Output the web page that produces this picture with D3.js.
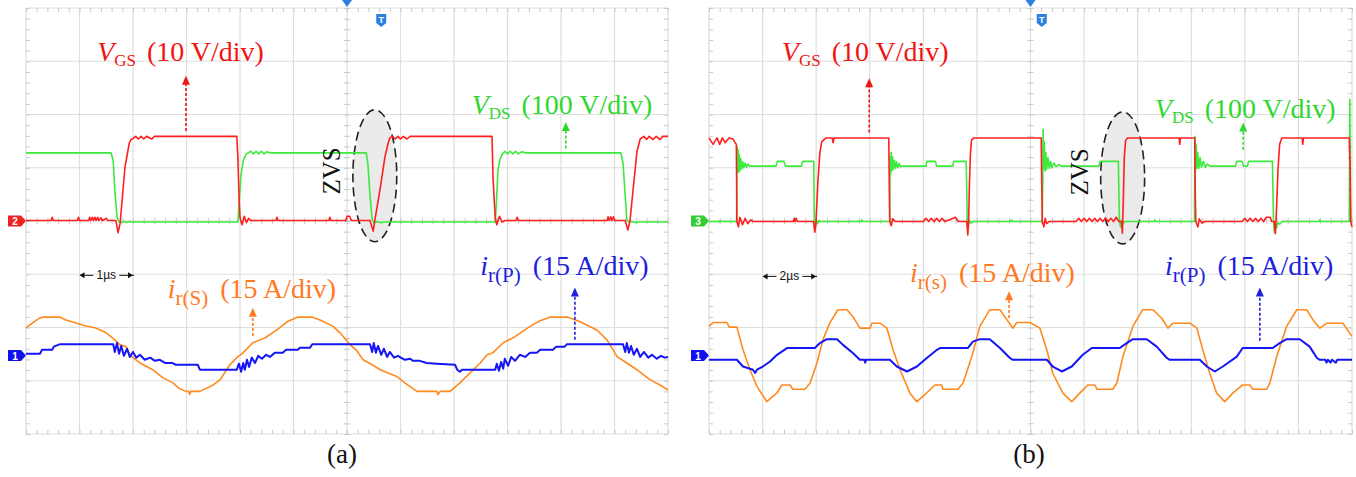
<!DOCTYPE html>
<html>
<head>
<meta charset="utf-8">
<script src="https://cdn.jsdelivr.net/npm/d3@7"></script>
<style>
  body { margin: 0; background: #fff; }
</style>
</head>
<body>
<div id="chart"></div>
<script>
const W = 1356, H = 477;

// screen settings
const captions = ["(a)", "(b)"];
const timePerDiv = [1, 2];          // µs/div
const timeMarks = ["1µs", "2µs"];
const divsX = 12, divsY = 8;

// ---- panel (a) samples: [t (µs), value] ----
const vgsA = [[0,0],[0.47,0],[0.49,0.6],[0.51,0],[0.96,0],[0.98,0.6],[1.0,0],[1.17,0],[1.19,0.6],[1.21,0],[1.24,0.6],[1.26,0],
  [1.29,0.6],[1.31,0],[1.34,0.6],[1.36,0],[1.40,0.5],[1.43,0],[1.50,0.4],[1.53,0],[1.68,0],[1.72,-2.3],[1.76,-0.5],[1.79,3],
  [1.85,10],[1.93,14.5],[1.96,15.2],[2.0,15.4],[2.05,15.8],[2.1,15.3],[2.15,15.8],[2.2,15.3],[2.25,15.8],[2.35,15.3],[2.4,15.8],
  [3.94,15.8],[3.96,12],[3.98,5],[4.0,0.5],[4.04,-0.8],[4.08,0.8],[4.12,-0.4],[4.16,0.4],[4.2,0],[4.67,0],[4.69,0.6],[4.71,0],
  [5.66,0],[5.68,0.6],[5.7,0],[5.98,0],[6.0,0.8],[6.05,0.8],[6.08,0],[6.43,0],[6.49,-2],[6.52,0],[6.62,6],[6.71,12],[6.77,14.5],
  [6.80,15.5],[6.85,15.8],[6.9,15.3],[6.95,15.8],[7.0,15.3],[7.05,15.8],[7.12,15.3],[7.18,15.8],[8.71,15.8],[8.73,8],[8.77,0.5],
  [8.8,-0.8],[8.85,0.8],[8.9,-0.3],[8.95,0],[9.16,0],[9.18,0.6],[9.2,0],[10.86,0],[10.88,0.7],[10.9,0],[10.93,0.7],[10.95,0],
  [10.98,0.7],[11.0,0],[11.2,0],[11.25,-1.8],[11.29,0],[11.35,6],[11.42,13],[11.48,15.3],[11.55,15.8],[11.6,15.2],[11.65,15.8],
  [11.72,15.2],[11.78,15.8],[11.85,15.2],[11.9,15.8],[12,15.8]];
const vdsA = [[0,130],[1.59,130],[1.63,115],[1.66,60],[1.70,10],[1.74,0],[1.78,-1],[1.83,1.5],[1.88,-1],[1.93,1],[1.98,0],
  [3.96,0],[3.98,30],[4.02,90],[4.06,115],[4.11,127],[4.2,133],[4.25,128],[4.3,133],[4.35,128],[4.4,133],[4.45,128],[4.5,132],
  [4.56,130],[6.36,130],[6.39,110],[6.43,50],[6.47,5],[6.51,-2],[6.56,1],[6.62,-1],[6.7,0],[8.77,0],[8.79,30],[8.82,95],
  [8.86,118],[8.9,127],[8.95,133],[9.0,128],[9.05,133],[9.1,128],[9.15,133],[9.2,128],[9.27,132],[9.33,130],[11.12,130],
  [11.16,110],[11.2,50],[11.23,5],[11.27,0],[11.32,1],[11.4,-1],[11.45,0],[12,0]];
const irPA = [[0,0.5],[0.26,0.5],[0.3,1.6],[0.49,1.6],[0.52,2.5],[0.6,3.0],[0.64,3.2],[1.63,3.2],[1.66,1.0],[1.70,3.5],[1.74,0.5],
  [1.78,2.7],[1.83,-0.1],[1.89,1.9],[1.94,-0.4],[2.0,1.0],[2.06,-0.6],[2.13,0.2],[2.22,-1.2],[2.32,-0.6],[2.41,-1.5],[2.5,-1.2],
  [2.6,-2.1],[2.73,-2.1],[2.8,-2.6],[3.21,-2.6],[3.25,-4.0],[3.94,-4.0],[3.98,-2.3],[4.02,-4.6],[4.06,-2.1],[4.09,-4.0],
  [4.13,-1.2],[4.17,-3.2],[4.22,-0.6],[4.28,-2.1],[4.34,-0.1],[4.41,-0.9],[4.49,0.2],[4.56,-0.4],[4.65,0.8],[4.8,0.8],[4.86,1.6],
  [5.08,1.6],[5.12,2.2],[5.31,2.2],[5.35,3.2],[6.43,3.2],[6.47,1.0],[6.5,3.5],[6.54,0.8],[6.58,2.7],[6.64,0.2],[6.69,1.9],
  [6.75,-0.4],[6.8,1.0],[6.88,-0.6],[6.95,-0.1],[7.08,-1.2],[7.18,-0.9],[7.23,-1.5],[7.36,-1.5],[7.49,-2.1],[7.68,-2.3],
  [8.02,-2.6],[8.06,-4.0],[8.11,-4.6],[8.15,-4.0],[8.77,-4.0],[8.8,-2.3],[8.84,-4.3],[8.88,-1.8],[8.92,-3.7],[8.95,-0.9],
  [9.01,-2.9],[9.07,-0.4],[9.14,-1.5],[9.23,0.2],[9.33,-0.4],[9.42,0.8],[9.55,0.8],[9.61,1.6],[9.85,1.6],[9.91,2.5],[10.07,2.5],
  [10.11,3.2],[11.16,3.2],[11.2,1.0],[11.23,3.5],[11.27,0.8],[11.31,2.7],[11.36,0.2],[11.42,1.9],[11.48,-0.4],[11.55,1.0],
  [11.63,-0.6],[11.7,0.2],[11.79,-0.9],[11.87,-0.1],[11.94,-0.6],[12,-0.4]];
const irSA = [[0,7.7],[0.07,8.6],[0.17,9.7],[0.26,10.6],[0.32,10.8],[0.64,10.8],[0.73,10.1],[0.92,9.2],[1.1,8.4],[1.29,7.8],
  [1.5,6.4],[1.66,4.4],[1.76,3.0],[1.87,2.5],[1.94,0.2],[2.0,-0.6],[2.13,-2.1],[2.37,-4.0],[2.56,-6.3],[2.75,-7.7],[2.84,-9.0],
  [2.88,-9.4],[2.99,-10.1],[3.04,-10.1],[3.06,-11.0],[3.08,-10.1],[3.25,-10.1],[3.5,-8.3],[3.63,-6.8],[3.81,-2.6],[3.94,-0.6],
  [4.06,0.8],[4.24,3.6],[4.47,5.0],[4.69,7.2],[4.88,9.5],[5.07,10.8],[5.36,10.8],[5.53,9.8],[5.74,8.2],[5.87,6.4],[6.06,3.0],
  [6.17,1.6],[6.3,-1.2],[6.47,-2.6],[6.62,-4.0],[6.93,-5.9],[7.08,-7.7],[7.31,-10.1],[7.68,-10.1],[7.7,-11.0],[7.74,-10.1],
  [7.93,-10.1],[8.11,-7.7],[8.36,-4.0],[8.49,-2.1],[8.62,0.2],[8.73,0.8],[8.92,3.6],[9.14,5.3],[9.42,8.2],[9.61,9.8],[9.79,10.8],
  [10.13,10.8],[10.36,9.5],[10.67,7.2],[10.86,4.4],[11.05,-0.3],[11.23,-2.1],[11.42,-4.0],[11.66,-6.8],[11.85,-8.3],[12,-9.7]];

// ---- panel (b) samples ----
const vgsB = [[0,15.7],[0.15,14.5],[0.3,15.7],[0.4,14.5],[0.5,15.7],[0.6,14.8],[0.75,15.7],[0.9,15.5],[0.97,14.8],[1.02,14.5],
  [1.03,8],[1.04,0],[1.1,-1],[1.15,0.8],[1.25,-0.6],[1.35,0.6],[1.45,-0.4],[1.55,0.3],[1.65,0],[3.15,0],[3.18,0.6],[3.21,0],
  [3.25,0.6],[3.3,0],[3.9,0],[3.95,-2],[3.99,-0.5],[4.07,8],[4.14,13],[4.21,15],[4.37,15.7],[4.6,15.7],[4.63,14.8],[4.67,15.7],
  [6.71,15.7],[6.73,6],[6.75,0],[6.8,-0.8],[6.86,0.5],[6.95,0],[8.0,0],[8.1,0.6],[8.2,0],[8.3,0.6],[8.4,0],[8.5,0.6],[8.6,0],
  [8.7,0.6],[8.8,0],[9.0,0.4],[9.2,0.8],[9.3,0],[9.62,0],[9.66,-2.5],[9.69,0],[9.72,7],[9.76,13],[9.8,15.3],[9.88,15.7],
  [12.4,15.7],[12.42,7],[12.44,0],[12.5,-1],[12.55,0.6],[12.6,-0.4],[12.7,0],[13.7,0],[13.8,0.6],[13.9,0],[14.0,0.6],[14.1,0],
  [14.2,0.6],[14.3,0],[14.4,0.6],[14.5,0],[14.6,0.6],[14.7,0],[14.8,0.6],[14.9,0],[15.0,0.6],[15.1,0],[15.2,0.8],[15.3,0],
  [15.4,0],[15.43,-2.2],[15.46,3],[15.5,12],[15.55,15.2],[15.62,15.7],[17.55,15.7],[17.57,14.5],[17.6,15.7],[18.13,15.7],
  [18.15,5],[18.17,0],[18.25,-1],[18.3,0.5],[18.4,-0.3],[18.5,0],[19.9,0],[20.0,0.6],[20.1,0],[20.2,0.6],[20.3,0],[20.4,0.6],
  [20.5,0],[20.6,0.6],[20.7,0],[20.8,0.8],[20.95,0.8],[21.0,0],[21.1,0],[21.14,-2.3],[21.18,2],[21.24,10],[21.3,14.5],
  [21.38,15.7],[22.14,15.7],[22.16,14.5],[22.19,15.7],[23.9,15.7],[23.93,10],[23.95,0],[24,-1]];
const vdsB = [[0,0],[0.3,0],[0.35,1],[0.4,-1],[0.45,1],[0.5,0],[1.03,0],[1.04,80],[1.05,141],[1.07,95],[1.09,135],[1.11,92],
  [1.13,125],[1.16,96],[1.19,118],[1.22,99],[1.26,112],[1.3,101],[1.35,110],[1.4,102],[1.45,108],[1.5,104],[2.5,104],[2.55,113],
  [2.8,113],[2.85,104],[3.45,104],[3.5,113],[3.91,113],[3.92,60],[3.93,0],[3.96,-10],[4.0,3],[4.05,-4],[4.1,2],[4.15,0],
  [5.68,0],[5.7,3],[5.73,0],[6.74,0],[6.75,60],[6.76,120],[6.78,90],[6.8,130],[6.82,95],[6.85,122],[6.88,98],[6.92,115],
  [6.96,100],[7.0,112],[7.05,101],[7.1,109],[7.15,103],[7.2,104],[8.1,104],[8.13,113],[8.45,113],[8.5,104],[9.1,104],[9.13,113],
  [9.6,113],[9.62,60],[9.64,0],[9.68,-8],[9.72,2],[9.78,-3],[9.85,0],[11.27,0],[11.29,3],[11.32,0],[12.44,0],[12.46,80],
  [12.47,173],[12.49,100],[12.51,150],[12.54,95],[12.57,130],[12.6,98],[12.65,120],[12.7,100],[12.75,113],[12.8,101],[12.87,110],
  [12.95,103],[13.05,107],[13.15,104],[14.55,104],[14.6,113],[15.28,113],[15.3,50],[15.32,0],[15.36,-10],[15.4,3],[15.46,-3],
  [15.52,0],[16.62,0],[16.64,3],[16.67,0],[18.12,0],[18.13,90],[18.14,160],[18.16,95],[18.18,145],[18.21,100],[18.24,130],
  [18.28,100],[18.33,120],[18.38,102],[18.45,113],[18.52,102],[18.6,108],[18.7,104],[19.65,104],[19.7,113],[19.9,113],[19.95,104],
  [20.1,104],[20.14,113],[21.03,113],[21.05,60],[21.07,0],[21.1,-20],[21.14,-5],[21.18,-12],[21.24,-2],[21.3,-5],[21.4,0],
  [22.78,0],[22.8,3],[22.83,0],[23.9,0],[23.92,229],[23.94,50],[23.96,0],[24,0]];
const irPB = [[0,-1.2],[1.04,-1.2],[1.27,-3.1],[1.64,-4.0],[1.72,-4.9],[1.79,-4.0],[2.01,-3.1],[2.28,-1.7],[2.54,0.2],[2.91,2.1],
  [3.95,2.1],[4.14,3.5],[4.4,4.6],[4.78,4.6],[5.0,3.0],[5.37,0.7],[5.63,-1.2],[5.8,-1.2],[5.83,-2.0],[5.86,-1.2],[6.75,-1.2],
  [7.01,-3.1],[7.39,-4.5],[7.76,-3.1],[8.13,-0.7],[8.51,1.6],[8.62,2.1],[9.66,2.1],[9.85,3.9],[10.11,4.6],[10.48,4.6],[10.86,2.1],
  [11.23,-0.7],[11.34,-1.2],[12.61,-1.2],[12.83,-3.1],[13.17,-4.5],[13.54,-3.1],[13.95,0.2],[14.29,2.1],[15.33,2.1],[15.59,3.5],
  [15.82,4.6],[16.34,4.6],[16.71,2.5],[17.09,-0.7],[17.2,-1.2],[18.32,-1.2],[18.58,-3.1],[18.88,-4.5],[19.18,-3.1],[19.7,-0.3],
  [19.92,2.1],[21.04,2.1],[21.3,3.5],[21.56,4.6],[22.05,4.6],[22.42,2.5],[22.69,-0.7],[22.8,-1.2],[23.0,-1.2],[23.05,-2],
  [23.1,-1.2],[23.2,-2],[23.25,-1.2],[23.4,-2],[23.45,-1.2],[24,-1.2]];
const irSB = [[0,8.2],[0.15,9.3],[0.67,9.3],[0.75,8.0],[1.04,8.0],[1.27,1.6],[1.53,-4.0],[1.79,-8.7],[2.16,-13.0],[2.54,-10.5],
  [2.72,-8.3],[3.02,-8.3],[3.13,-9.5],[3.58,-9.5],[3.77,-7.8],[4.03,-2.1],[4.25,4.4],[4.51,9.2],[4.81,12.9],[5.15,12.9],
  [5.37,11.0],[5.63,7.7],[6.01,7.7],[6.08,9.1],[6.38,9.1],[6.64,7.7],[6.87,1.6],[7.13,-4.0],[7.5,-10.6],[7.76,-13.0],[8.13,-10.5],
  [8.43,-8.3],[8.69,-8.3],[8.73,-9.5],[9.29,-9.5],[9.48,-7.8],[9.81,-0.3],[10.11,8.2],[10.48,12.9],[10.86,12.9],[11.12,10.1],
  [11.34,7.7],[11.49,9.3],[11.98,9.3],[12.35,7.7],[12.61,1.6],[12.83,-5.0],[13.21,-10.6],[13.54,-13.0],[13.84,-10.6],[14.14,-8.3],
  [14.4,-8.3],[14.48,-9.5],[15.07,-9.5],[15.22,-7.8],[15.45,-0.3],[15.82,8.2],[16.19,12.9],[16.57,12.9],[16.9,10.5],[17.13,7.7],
  [17.31,9.1],[17.95,9.1],[18.21,7.7],[18.43,1.6],[18.69,-5.0],[18.95,-10.6],[19.25,-13.0],[19.55,-10.6],[19.92,-8.3],[20.19,-8.3],
  [20.3,-9.5],[20.82,-9.5],[20.93,-7.8],[21.19,-0.3],[21.56,8.2],[21.94,12.9],[22.31,12.9],[22.54,10.1],[22.8,7.7],[23.06,9.1],
  [23.66,9.1],[24,5.4]];

const C = {
  red: "#ff1f1f", redTxt: "#f01414",
  green: "#3bea3b", greenTxt: "#2fd82f",
  orange: "#ff8a1e", orangeTxt: "#ff7a22",
  blue: "#1515f5", blueTxt: "#2020dd",
  grid: "#dedede", tick: "#c8c8c8", marker: "#2b80e0"
};

// ch offsets in divisions, units per division
const panels = [
  {
    x0: 26, x1: 668, y0: 8, y1: 434, tdiv: timePerDiv[0], caption: captions[0], mark: timeMarks[0], capX: 342,
    traces: [
      { data: irSA, color: C.orange, width: 1.6, perDiv: 15, off: -2.526 },
      { data: irPA, color: C.blue, width: 2, perDiv: 15, off: -2.526 },
      { data: vdsA, color: C.green, width: 1.6, perDiv: 100, off: -0.02 },
      { data: vgsA, color: C.red, width: 1.6, perDiv: 10, off: 0.01 }
    ],
    chMarks: [{ y: 0, n: "2", color: "#ee2222" }, { y: -2.526, n: "1", color: "#1111ee" }],
    labels: [
      { x: 1.33, y: 3.0, color: C.redTxt, main: "V", sub: "GS", rest: "(10 V/div)", arrow: [2.99, 1.69, 2.73] },
      { x: 8.33, y: 2.01, color: C.greenTxt, main: "V", sub: "DS", rest: "(100 V/div)", arrow: [10.09, 1.36, 1.86] },
      { x: 2.65, y: -1.44, color: C.orangeTxt, main: "i", sub: "r(S)", rest: "(15 A/div)", arrow: [4.24, -2.16, -1.63] },
      { x: 8.49, y: -1.01, color: C.blueTxt, main: "i", sub: "r(P)", rest: "(15 A/div)", arrow: [10.26, -2.23, -1.25] }
    ],
    zvs: { x: 5.87, y: 0.94 }, ell: { x: 6.52, y: 0.85, rx: 0.41, ry: 1.24 },
    markY: -1.02, trigT: 6.64
  },
  {
    x0: 709, x1: 1352, y0: 8, y1: 434, tdiv: timePerDiv[1], caption: captions[1], mark: timeMarks[1], capX: 1029,
    traces: [
      { data: irSB, color: C.orange, width: 1.6, perDiv: 15, off: -2.526 },
      { data: irPB, color: C.blue, width: 2, perDiv: 15, off: -2.526 },
      { data: vdsB, color: C.green, width: 1.6, perDiv: 100, off: -0.01 },
      { data: vgsB, color: C.red, width: 1.6, perDiv: 10, off: -0.01 }
    ],
    chMarks: [{ y: 0, n: "3", color: "#33cc33" }, { y: -2.526, n: "1", color: "#1111ee" }],
    labels: [
      { x: 1.36, y: 3.0, color: C.redTxt, main: "V", sub: "GS", rest: "(10 V/div)", arrow: [2.99, 1.66, 2.68] },
      { x: 8.32, y: 1.94, color: C.greenTxt, main: "V", sub: "DS", rest: "(100 V/div)", arrow: [9.97, 1.34, 1.85] },
      { x: 3.75, y: -1.14, color: C.orangeTxt, main: "i", sub: "r(s)", rest: "(15 A/div)", arrow: [5.6, -1.82, -1.32] },
      { x: 8.51, y: -1.01, color: C.blueTxt, main: "i", sub: "r(P)", rest: "(15 A/div)", arrow: [10.28, -2.25, -1.25] }
    ],
    zvs: { x: 7.07, y: 0.92 }, ell: { x: 7.72, y: 0.81, rx: 0.41, ry: 1.24 },
    markY: -1.04, trigT: 6.21
  }
];

const svg = d3.select("#chart").append("svg")
  .attr("width", W).attr("height", H)
  .style("background", "#fff");

const serif = "'Liberation Serif', 'Times New Roman', serif";

panels.forEach(p => {
  const g = svg.append("g");
  // grid coordinates in divisions
  const gx = d3.scaleLinear().domain([0, divsX]).range([p.x0, p.x1]);
  const gy = d3.scaleLinear().domain([-divsY / 2, divsY / 2]).range([p.y1, p.y0]);
  // time scale
  const tx = d3.scaleLinear().domain([0, divsX * p.tdiv]).range([p.x0, p.x1]);

  // grid lines
  g.append("g").selectAll("line").data(d3.range(divsX + 1)).join("line")
    .attr("x1", d => gx(d)).attr("x2", d => gx(d))
    .attr("y1", p.y0).attr("y2", p.y1)
    .attr("stroke", C.grid).attr("stroke-width", 1.2);
  g.append("g").selectAll("line").data(d3.range(-divsY / 2, divsY / 2 + 1)).join("line")
    .attr("x1", p.x0).attr("x2", p.x1)
    .attr("y1", d => gy(d)).attr("y2", d => gy(d))
    .attr("stroke", C.grid).attr("stroke-width", 1.2);

  // minor ticks (5 per div) on frame and centre cross
  const xt = d3.range(0, divsX * 5 + 1).map(i => i / 5);
  const yt = d3.range(-divsY * 5 / 2, divsY * 5 / 2 + 1).map(i => i / 5);
  const clean = s => { s.select(".domain").remove(); s.selectAll("line").attr("stroke", C.tick); };
  g.append("g").attr("transform", `translate(0,${p.y0})`)
    .call(d3.axisBottom(gx).tickValues(xt).tickSize(4).tickFormat("")).call(clean);
  g.append("g").attr("transform", `translate(0,${p.y1})`)
    .call(d3.axisTop(gx).tickValues(xt).tickSize(4).tickFormat("")).call(clean);
  g.append("g").attr("transform", `translate(${p.x0},0)`)
    .call(d3.axisRight(gy).tickValues(yt).tickSize(4).tickFormat("")).call(clean);
  g.append("g").attr("transform", `translate(${p.x1},0)`)
    .call(d3.axisLeft(gy).tickValues(yt).tickSize(4).tickFormat("")).call(clean);
  g.append("g").attr("transform", `translate(0,${gy(0) - 3})`)
    .call(d3.axisBottom(gx).tickValues(xt).tickSize(6).tickFormat("")).call(clean);
  g.append("g").attr("transform", `translate(${gx(divsX / 2) - 3},0)`)
    .call(d3.axisRight(gy).tickValues(yt).tickSize(6).tickFormat("")).call(clean);

  // ZVS ellipse (behind traces)
  g.append("ellipse")
    .attr("cx", gx(p.ell.x)).attr("cy", gy(p.ell.y))
    .attr("rx", gx(p.ell.rx) - gx(0)).attr("ry", gy(0) - gy(p.ell.ry))
    .attr("fill", "#e9e9e9").attr("fill-opacity", 0.9)
    .attr("stroke", "#222").attr("stroke-width", 1.6).attr("stroke-dasharray", "9,5");

  // traces
  p.traces.forEach(tr => {
    const line = d3.line()
      .x(d => tx(d[0]))
      .y(d => gy(tr.off + d[1] / tr.perDiv));
    g.append("path").datum(tr.data)
      .attr("d", line)
      .attr("fill", "none")
      .attr("stroke", tr.color)
      .attr("stroke-width", tr.width)
      .attr("stroke-linejoin", "round");
  });

  // ZVS text
  g.append("text")
    .attr("transform", `translate(${gx(p.zvs.x)},${gy(p.zvs.y)}) rotate(-90)`)
    .attr("text-anchor", "middle")
    .attr("font-family", serif).attr("font-size", 25)
    .attr("fill", "#111").text("ZVS");

  // labels with dashed arrows
  p.labels.forEach(l => {
    const isV = l.main === "V";
    const t = g.append("text")
      .attr("x", gx(l.x)).attr("y", gy(l.y))
      .attr("font-family", serif).attr("font-size", 28).attr("fill", l.color);
    t.append("tspan").attr("font-style", "italic").text(l.main);
    t.append("tspan").attr("font-size", isV ? 17 : 21).attr("dy", isV ? 5 : 7).text(l.sub);
    t.append("tspan").attr("dy", isV ? -5 : -7).attr("dx", isV ? 11 : 12).text(l.rest);

    const ax = gx(l.arrow[0]), yb = gy(l.arrow[1]), yt2 = gy(l.arrow[2]);
    g.append("line")
      .attr("x1", ax).attr("x2", ax).attr("y1", yb).attr("y2", yt2 + 7)
      .attr("stroke", l.color).attr("stroke-width", 1.6).attr("stroke-dasharray", "3,2");
    g.append("path")
      .attr("d", `M${ax},${yt2} L${ax - 4},${yt2 + 9} L${ax + 4},${yt2 + 9} Z`)
      .attr("fill", l.color);
  });

  // time per div marker
  const my = gy(p.markY), ma = gx(1), mb = gx(2), mm = (ma + mb) / 2;
  g.append("text").attr("x", mm).attr("y", my + 4)
    .attr("text-anchor", "middle").attr("font-family", "'Liberation Sans', Arial, sans-serif")
    .attr("font-size", 12).attr("fill", "#111").text(p.mark);
  [[ma, mm - 13], [mb, mm + 13]].forEach(([a, b]) => {
    g.append("line").attr("x1", a + 1).attr("x2", b).attr("y1", my).attr("y2", my)
      .attr("stroke", "#111").attr("stroke-width", 1);
    const dir = a < b ? 1 : -1;
    g.append("path").attr("d", `M${a},${my} L${a + dir * 5},${my - 3} L${a + dir * 5},${my + 3} Z`).attr("fill", "#111");
  });

  // channel markers on left
  p.chMarks.forEach(m => {
    const y = gy(m.y), x = p.x0;
    g.append("path")
      .attr("d", `M${x - 18},${y - 5.5} L${x - 5},${y - 5.5} L${x},${y} L${x - 5},${y + 5.5} L${x - 18},${y + 5.5} Z`)
      .attr("fill", m.color);
    g.append("text").attr("x", x - 11).attr("y", y + 4)
      .attr("text-anchor", "middle").attr("font-family", "'Liberation Sans', Arial, sans-serif")
      .attr("font-size", 10).attr("font-weight", "bold").attr("fill", "#fff").text(m.n);
  });

  // trigger position and T marker
  const cx = gx(divsX / 2);
  g.append("path").attr("d", `M${cx - 5},${0} L${cx + 5},${0} L${cx},${7} Z`).attr("fill", C.marker);
  const tt = gx(p.trigT);
  g.append("path")
    .attr("d", `M${tt - 5},${14} L${tt + 5},${14} L${tt + 5},${23} L${tt},${27} L${tt - 5},${23} Z`)
    .attr("fill", C.marker);
  g.append("text").attr("x", tt).attr("y", 23)
    .attr("text-anchor", "middle").attr("font-family", "'Liberation Sans', Arial, sans-serif")
    .attr("font-size", 9).attr("font-weight", "bold").attr("fill", "#fff").text("T");

  // caption
  svg.append("text")
    .attr("x", p.capX).attr("y", 463)
    .attr("text-anchor", "middle")
    .attr("font-family", serif).attr("font-size", 27).attr("fill", "#111")
    .text(p.caption);
});
</script>
</body>
</html>
